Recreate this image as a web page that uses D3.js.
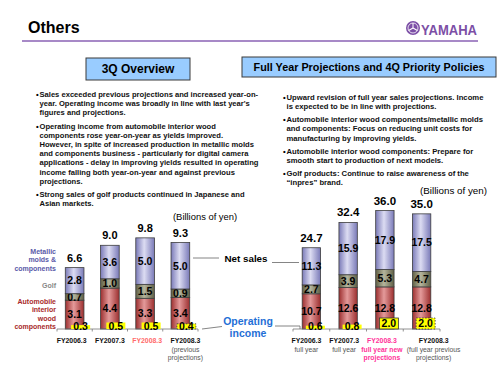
<!DOCTYPE html>
<html>
<head>
<meta charset="utf-8">
<script src="https://cdn.jsdelivr.net/npm/d3@7"></script>
<style>
  body { margin: 0; background: #fff; }
  svg { display: block; font-family: "Liberation Sans", Arial, sans-serif; }
</style>
</head>
<body>
<svg width="500" height="375"></svg>
<script>
// ---- data (billions of yen) ----
const leftCats = ["FY2006.3", "FY2007.3", "FY2008.3", "FY2008.3"];
const leftSub = [[], [], [], ["(previous", "projections)"]];
const leftAuto = [3.1, 4.4, 3.3, 3.4];
const leftGolf = [0.7, 1.0, 1.5, 0.9];
const leftMetal = [2.8, 3.6, 5.0, 5.0];
const leftNet = [6.6, 9.0, 9.8, 9.3];
const leftOp = [0.3, 0.5, 0.5, 0.4];

const rightCats = ["FY2006.3", "FY2007.3", "FY2008.3", "FY2008.3"];
const rightSub = [["full year"], ["full year"], ["full year new", "projections"], ["(full year previous", "projections)"]];
const rightAuto = [10.7, 12.6, 12.8, 12.8];
const rightGolf = [2.7, 3.9, 5.3, 4.7];
const rightMetal = [11.3, 15.9, 17.9, 17.5];
const rightNet = [24.7, 32.4, 36.0, 35.0];
const rightOp = [0.6, 0.8, 2.0, 2.0];

const leftBullets = [
  ["Sales exceeded previous projections and increased year-on-",
   "year. Operating income was broadly in line with last year's",
   "figures and projections."],
  ["Operating income from automobile interior wood",
   "components rose year-on-year as yields improved.",
   "However, in spite of increased production in metallic molds",
   "and components business - particularly for digital camera",
   "applications - delay in improving yields resulted in operating",
   "income falling both year-on-year and against previous",
   "projections."],
  ["Strong sales of golf products continued in Japanese and",
   "Asian markets."]
];
const rightBullets = [
  ["Upward revision of full year sales projections. Income",
   "is expected to be in line with projections."],
  ["Automobile interior wood components/metallic molds",
   "and components: Focus on reducing unit costs for",
   "manufacturing by improving yields."],
  ["Automobile interior wood components: Prepare for",
   "smooth start to production of next models."],
  ["Golf products: Continue to raise awareness of the",
   "\u201Cinpres\u201D brand."]
];

const svg = d3.select("svg");
const defs = svg.append("defs");

// cylinder-like gradients for the bar segments
const grads = [
  { id: "gAuto", edge: "#9c2f2f", mid: "#e49a9a" },
  { id: "gGolf", edge: "#5f5f45", mid: "#b5b59c" },
  { id: "gMetal", edge: "#7a7ab8", mid: "#dcdcf2" }
];
grads.forEach(g => {
  const lg = defs.append("linearGradient").attr("id", g.id)
    .attr("x1", 0).attr("x2", 1).attr("y1", 0).attr("y2", 0);
  lg.append("stop").attr("offset", "0%").attr("stop-color", g.edge);
  lg.append("stop").attr("offset", "45%").attr("stop-color", g.mid);
  lg.append("stop").attr("offset", "100%").attr("stop-color", g.edge);
});

// ---- header ----
svg.append("text").attr("x", 28).attr("y", 33)
  .attr("font-size", 16).attr("font-weight", "bold").text("Others");
svg.append("line").attr("x1", 22).attr("x2", 478).attr("y1", 41).attr("y2", 41)
  .attr("stroke", "#8a62b4").attr("stroke-width", 1.6);

// yamaha logo
const logo = svg.append("g").attr("transform", "translate(413,28)");
logo.append("circle").attr("r", 7).attr("fill", "#7c4fa6");
logo.append("circle").attr("r", 5).attr("fill", "none").attr("stroke", "#fff").attr("stroke-width", 0.8);
[0, 120, 240].forEach(a => {
  logo.append("line").attr("x1", 0).attr("y1", 0).attr("x2", 0).attr("y2", -5)
    .attr("stroke", "#fff").attr("stroke-width", 1).attr("transform", `rotate(${a})`);
});
svg.append("text").attr("x", 421).attr("y", 34.5)
  .attr("font-family", "'Liberation Sans Narrow', 'Liberation Sans', Arial")
  .attr("font-size", 15).attr("font-weight", "bold").attr("fill", "#7c4fa6")
  .attr("textLength", 56).attr("lengthAdjust", "spacingAndGlyphs").text("YAMAHA");

// ---- section boxes ----
function box(x, y, w, h, label, fs) {
  svg.append("rect").attr("x", x).attr("y", y).attr("width", w).attr("height", h)
    .attr("fill", "#99ccff").attr("stroke", "#3a3a3a").attr("stroke-width", 1);
  svg.append("text").attr("x", x + w / 2).attr("y", y + h / 2 + fs * 0.36)
    .attr("text-anchor", "middle").attr("font-size", fs).attr("font-weight", "bold")
    .text(label);
}
box(86, 58, 104, 22, "3Q Overview", 12);
box(242, 57, 254, 20, "Full Year Projections and 4Q Priority Policies", 10.8);

// ---- bullets ----
function bullets(list, x, y0, lh, gap, fs) {
  let y = y0;
  list.forEach(lines => {
    svg.append("text").attr("x", x).attr("y", y).attr("font-size", fs)
      .attr("font-weight", "bold").text("\u2022");
    lines.forEach(t => {
      svg.append("text").attr("x", x + 3.5).attr("y", y).attr("font-size", fs)
        .attr("font-weight", "bold").attr("fill", "#111").text(t);
      y += lh;
    });
    y += gap;
  });
}
bullets(leftBullets, 36, 97, 9.2, 4, 7.6);
bullets(rightBullets, 283, 100, 9.3, 3.5, 7.7);

// ---- charts ----
function drawChart(o) {
  const g = svg.append("g");
  const x = d3.scaleBand().domain(d3.range(o.cats.length)).range(o.xr);
  const y = d3.scaleLinear().domain([0, o.max]).range([o.base, o.top]);
  const bw = x.bandwidth() * o.barFrac;
  const cx = i => x(i) + x.bandwidth() / 2;

  const rows = o.cats.map((c, i) => ({ i, auto: o.auto[i], golf: o.golf[i], metal: o.metal[i] }));
  const keys = ["auto", "golf", "metal"];
  const fills = { auto: "url(#gAuto)", golf: "url(#gGolf)", metal: "url(#gMetal)" };
  const stack = d3.stack().keys(keys)(rows);

  stack.forEach(layer => {
    g.selectAll(null).data(layer).enter().append("rect")
      .attr("x", d => cx(d.data.i) - bw / 2)
      .attr("y", d => y(d[1]))
      .attr("width", bw)
      .attr("height", d => y(d[0]) - y(d[1]))
      .attr("fill", fills[layer.key])
      .attr("stroke", "#3d3d3d").attr("stroke-width", 0.8);
    g.selectAll(null).data(layer).enter().append("text")
      .attr("x", d => cx(d.data.i))
      .attr("y", d => (y(d[0]) + y(d[1])) / 2 + o.segFs * 0.36)
      .attr("text-anchor", "middle").attr("font-size", o.segFs).attr("font-weight", "bold")
      .text(d => (d[1] - d[0]).toFixed(1));
  });

  // net sales totals
  g.selectAll(null).data(o.net).enter().append("text")
    .attr("x", (d, i) => cx(i))
    .attr("y", d => y(d) - 6)
    .attr("text-anchor", "middle").attr("font-size", o.totFs).attr("font-weight", "bold")
    .text(d => d.toFixed(1));

  // baseline axis with ticks at band edges
  g.append("line").attr("x1", o.xr[0]).attr("x2", o.xr[1])
    .attr("y1", o.base).attr("y2", o.base).attr("stroke", "#777").attr("stroke-width", 0.8);
  g.selectAll(null).data(d3.range(o.cats.length + 1)).enter().append("line")
    .attr("x1", i => o.xr[0] + i * x.step()).attr("x2", i => o.xr[0] + i * x.step())
    .attr("y1", o.base).attr("y2", o.base + 2.5).attr("stroke", "#777").attr("stroke-width", 0.8);

  // operating income boxes
  const yo = d3.scaleLinear().domain([0, 1]).range([0, o.opScale]);
  g.selectAll(null).data(o.op).enter().append("rect")
    .attr("x", (d, i) => cx(i) + o.opShift - 9.5)
    .attr("y", d => o.base - yo(d))
    .attr("width", 19)
    .attr("height", d => yo(d))
    .attr("fill", "#ffff00")
    .attr("stroke", (d, i) => o.opBorder[i] ? "#333" : "none")
    .attr("stroke-width", 0.8)
    .attr("stroke-dasharray", (d, i) => o.opBorder[i] === "dash" ? "1.5,1.5" : null);
  g.selectAll(null).data(o.op).enter().append("text")
    .attr("x", (d, i) => cx(i) + o.opShift)
    .attr("y", d => o.base - Math.max(yo(d) / 2, 3) + 3.8)
    .attr("text-anchor", "middle").attr("font-size", o.segFs).attr("font-weight", "bold")
    .text(d => d.toFixed(1));

  // category labels
  g.selectAll(null).data(o.cats).enter().append("text")
    .attr("x", (d, i) => cx(i) + o.labShift[i])
    .attr("y", o.base + 13.5)
    .attr("text-anchor", "middle").attr("font-size", 6.9).attr("font-weight", "bold")
    .attr("fill", (d, i) => o.catColor[i])
    .text(d => d);
  o.sub.forEach((lines, i) => {
    lines.forEach((t, k) => {
      g.append("text").attr("x", cx(i) + o.labShift[i]).attr("y", o.base + 22.5 + k * 8.3)
        .attr("text-anchor", "middle").attr("font-size", 6.8)
        .attr("font-weight", o.subBold[i] ? "bold" : "normal")
        .attr("fill", o.subColor[i]).text(t);
    });
  });
}

drawChart({
  cats: leftCats, sub: leftSub, auto: leftAuto, golf: leftGolf, metal: leftMetal,
  net: leftNet, op: leftOp,
  xr: [57, 198], base: 329, top: 236, max: 10, barFrac: 0.53,
  segFs: 10.5, totFs: 11, opScale: 13, opShift: 6,
  opBorder: [null, null, null, "dash"],
  labShift: [-3, 0, 2, 5],
  catColor: ["#111", "#111", "#ff6b6b", "#111"],
  subColor: ["#555", "#555", "#555", "#555"], subBold: [false, false, false, false]
});
drawChart({
  cats: rightCats, sub: rightSub, auto: rightAuto, golf: rightGolf, metal: rightMetal,
  net: rightNet, op: rightOp,
  xr: [293, 440], base: 329, top: 197.4, max: 40, barFrac: 0.5,
  segFs: 10.5, totFs: 11.5, opScale: 5.5, opShift: 4,
  opBorder: [null, null, "solid", "dash"],
  labShift: [-5, -4, -3, 12],
  catColor: ["#111", "#111", "#ff3399", "#111"],
  subColor: ["#555", "#555", "#ff3399", "#555"], subBold: [false, false, true, false]
});

// ---- units ----
svg.append("text").attr("x", 173).attr("y", 220).attr("font-size", 9.4).text("(Billions of yen)");
svg.append("text").attr("x", 420).attr("y", 194).attr("font-size", 9.8).text("(Billions of yen)");

// ---- legend labels, left side ----
const legend = [
  { lines: ["Metallic", "molds &", "components"], y: 254, color: "#5a5aa8" },
  { lines: ["Golf"], y: 287.5, color: "#888" },
  { lines: ["Automobile", "interior", "wood", "components"], y: 304, color: "#a82a2a" }
];
legend.forEach(l => {
  l.lines.forEach((t, k) => {
    svg.append("text").attr("x", 56).attr("y", l.y + k * 8.4).attr("text-anchor", "end")
      .attr("font-size", 7).attr("font-weight", "bold").attr("fill", l.color).text(t);
  });
});

// ---- centre annotations ----
svg.append("line").attr("x1", 193).attr("x2", 219).attr("y1", 258).attr("y2", 258)
  .attr("stroke", "#666").attr("stroke-width", 0.8);
svg.append("line").attr("x1", 272).attr("x2", 299).attr("y1", 262.5).attr("y2", 262.5)
  .attr("stroke", "#666").attr("stroke-width", 0.8);
svg.append("text").attr("x", 246).attr("y", 261.5).attr("text-anchor", "middle")
  .attr("font-size", 9.8).attr("font-weight", "bold").text("Net sales");

svg.append("line").attr("x1", 202).attr("x2", 222).attr("y1", 329).attr("y2", 326.5)
  .attr("stroke", "#666").attr("stroke-width", 0.8);
svg.append("polyline").attr("points", "275,326 300,326 300,329")
  .attr("fill", "none").attr("stroke", "#666").attr("stroke-width", 0.8);
svg.append("text").attr("x", 248).attr("y", 324.5).attr("text-anchor", "middle")
  .attr("font-size", 10.5).attr("font-weight", "bold").attr("fill", "#1f6fd6").text("Operating");
svg.append("text").attr("x", 248).attr("y", 337).attr("text-anchor", "middle")
  .attr("font-size", 10.5).attr("font-weight", "bold").attr("fill", "#1f6fd6").text("income");
</script>
</body>
</html>
